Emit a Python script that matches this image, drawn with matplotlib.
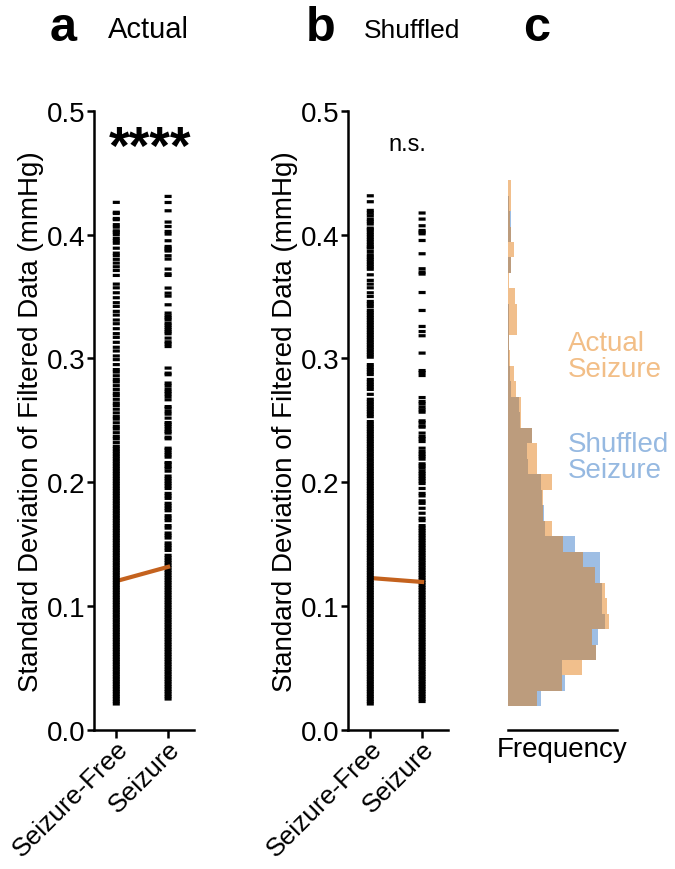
import numpy as np
import matplotlib.pyplot as plt
import matplotlib.transforms as mtransforms

plt.rcParams['font.family'] = ['Liberation Sans', 'DejaVu Sans']

groups = ['Seizure-Free', 'Seizure']

# SD of filtered data per epoch (mmHg)
actual_free = [
    0.021, 0.023, 0.025, 0.027, 0.029, 0.031, 0.033, 0.035, 0.037, 0.039,
    0.041, 0.043, 0.045, 0.047, 0.049, 0.051, 0.053, 0.055, 0.057, 0.059,
    0.061, 0.063, 0.065, 0.067, 0.069, 0.071, 0.073, 0.075, 0.077, 0.079,
    0.081, 0.083, 0.085, 0.087, 0.089, 0.091, 0.093, 0.095, 0.097, 0.099,
    0.101, 0.103, 0.105, 0.107, 0.109, 0.111, 0.113, 0.115, 0.117, 0.119,
    0.121, 0.123, 0.125, 0.127, 0.129, 0.131, 0.133, 0.135, 0.137, 0.139,
    0.141, 0.143, 0.145, 0.147, 0.149, 0.151, 0.153, 0.155, 0.157, 0.159,
    0.161, 0.163, 0.165, 0.167, 0.169, 0.171, 0.173, 0.175, 0.177, 0.179,
    0.181, 0.183, 0.185, 0.187, 0.189, 0.191, 0.193, 0.195, 0.197, 0.199,
    0.201, 0.203, 0.205, 0.207, 0.209, 0.211, 0.213, 0.215, 0.217, 0.219,
    0.221, 0.223, 0.225, 0.227, 0.229,
    0.232, 0.235, 0.237, 0.240, 0.243, 0.245, 0.248, 0.251, 0.253, 0.256,
    0.259, 0.262, 0.264, 0.267, 0.270, 0.272, 0.275, 0.278, 0.281, 0.283,
    0.286, 0.289, 0.291, 0.295, 0.299, 0.302, 0.306, 0.309, 0.313, 0.317,
    0.320, 0.324, 0.328, 0.331, 0.335, 0.338, 0.342, 0.345, 0.349, 0.353,
    0.357, 0.360, 0.367, 0.371, 0.374, 0.377, 0.380, 0.383, 0.385, 0.389,
    0.393, 0.395, 0.397, 0.400, 0.402, 0.403, 0.406, 0.408, 0.412, 0.413,
    0.417, 0.418, 0.426,
]
actual_seizure = [
    0.025, 0.027, 0.029, 0.031, 0.033, 0.035, 0.037, 0.039,
    0.041, 0.043, 0.045, 0.047, 0.049, 0.051, 0.053, 0.055, 0.057, 0.059,
    0.061, 0.063, 0.065, 0.067, 0.069, 0.071, 0.073, 0.075, 0.077, 0.079,
    0.081, 0.083, 0.085, 0.087, 0.089, 0.091, 0.093, 0.095, 0.097, 0.099,
    0.101, 0.103, 0.105, 0.107, 0.109, 0.111, 0.113, 0.115, 0.117, 0.119,
    0.121, 0.123, 0.125, 0.127, 0.129, 0.131, 0.133, 0.135, 0.137, 0.139,
    0.141, 0.145, 0.147, 0.149, 0.151, 0.155, 0.157, 0.159, 0.163, 0.165,
    0.169, 0.171, 0.173, 0.177, 0.179, 0.181, 0.183, 0.187, 0.189, 0.191,
    0.195, 0.197, 0.199, 0.201, 0.203, 0.205, 0.209,
    0.2114, 0.2127, 0.2149, 0.2159, 0.2203, 0.2221, 0.2240, 0.2262, 0.2275,
    0.2351, 0.2364, 0.2397, 0.2410, 0.2429, 0.2450, 0.2469, 0.2482, 0.2518,
    0.2550, 0.2571, 0.2598, 0.2611, 0.2666, 0.2692, 0.2714, 0.2733, 0.2754,
    0.2781, 0.2801, 0.2868, 0.2881, 0.2922, 0.3096, 0.3118, 0.3134, 0.3164,
    0.3199, 0.3215, 0.3231, 0.3250, 0.3269, 0.3285, 0.3312, 0.3328, 0.3344,
    0.3366, 0.3433, 0.3503, 0.3527, 0.3568, 0.3670, 0.3683, 0.3721, 0.3802,
    0.3829, 0.3867, 0.3877, 0.3891, 0.3904, 0.3950, 0.4004, 0.4025, 0.4065,
    0.4101, 0.4192, 0.4259, 0.4308,
]
shuffled_free = [
    0.021, 0.023, 0.025, 0.027, 0.029, 0.031, 0.033, 0.035, 0.037, 0.039,
    0.041, 0.043, 0.045, 0.047, 0.049, 0.051, 0.053, 0.055, 0.057, 0.059,
    0.061, 0.063, 0.065, 0.067, 0.069, 0.071, 0.073, 0.075, 0.077, 0.079,
    0.081, 0.083, 0.085, 0.087, 0.089, 0.091, 0.093, 0.095, 0.097, 0.099,
    0.101, 0.103, 0.105, 0.107, 0.109, 0.111, 0.113, 0.115, 0.117, 0.119,
    0.121, 0.123, 0.125, 0.127, 0.129, 0.131, 0.133, 0.135, 0.137, 0.139,
    0.141, 0.143, 0.145, 0.147, 0.149, 0.151, 0.153, 0.155, 0.157, 0.159,
    0.161, 0.163, 0.165, 0.167, 0.169, 0.171, 0.173, 0.175, 0.177, 0.179,
    0.181, 0.183, 0.185, 0.187, 0.189, 0.191, 0.193, 0.195, 0.197, 0.199,
    0.201, 0.203, 0.205, 0.207, 0.209, 0.211, 0.213, 0.215, 0.217, 0.219,
    0.221, 0.223, 0.225, 0.227, 0.229, 0.231, 0.233, 0.235, 0.237, 0.239,
    0.241, 0.243, 0.245, 0.247, 0.249, 0.253, 0.255, 0.257, 0.259,
    0.261, 0.263, 0.265, 0.267, 0.271, 0.275, 0.277, 0.279,
    0.281, 0.283, 0.287, 0.289, 0.291, 0.293, 0.295,
    0.301, 0.303, 0.305, 0.307, 0.309, 0.311, 0.313, 0.315, 0.317, 0.319,
    0.321, 0.323, 0.325, 0.327, 0.329, 0.331,
    0.333, 0.335, 0.337, 0.339, 0.342, 0.344, 0.346, 0.350, 0.353, 0.357,
    0.360, 0.363, 0.3675, 0.372, 0.374, 0.376, 0.378, 0.380, 0.3818, 0.3837,
    0.3864, 0.3891, 0.390, 0.392, 0.394, 0.396, 0.398, 0.400, 0.402, 0.4039,
    0.4052, 0.4085, 0.4106, 0.4125, 0.4152, 0.4174, 0.4195, 0.4265, 0.4313,
]
shuffled_seizure = [
    0.023, 0.025, 0.027, 0.029, 0.031, 0.033, 0.035, 0.037, 0.039,
    0.041, 0.043, 0.045, 0.047, 0.049, 0.051, 0.053, 0.055, 0.057, 0.059,
    0.061, 0.063, 0.065, 0.067, 0.069, 0.071, 0.073, 0.075, 0.077, 0.079,
    0.081, 0.083, 0.085, 0.087, 0.089, 0.091, 0.093, 0.095, 0.097, 0.099,
    0.101, 0.103, 0.105, 0.107, 0.109, 0.111, 0.113, 0.115, 0.117, 0.119,
    0.121, 0.123, 0.125, 0.127, 0.129, 0.131, 0.133, 0.135, 0.137, 0.139,
    0.141, 0.143, 0.145, 0.147, 0.149, 0.151, 0.153, 0.155, 0.157, 0.159,
    0.161, 0.163, 0.165, 0.169, 0.171, 0.175, 0.179, 0.183, 0.185, 0.189,
    0.191, 0.195, 0.199, 0.201, 0.203, 0.205, 0.207, 0.209,
    0.2114, 0.2132, 0.2149, 0.2187, 0.2208, 0.2227, 0.2248, 0.2275, 0.2329,
    0.2351, 0.2369, 0.2397, 0.2445, 0.2456, 0.2482, 0.2496, 0.2566, 0.2585,
    0.2607, 0.2633, 0.2652, 0.2684, 0.2862, 0.2886, 0.2902, 0.3043, 0.3183,
    0.3217, 0.3258, 0.3387, 0.3532, 0.3681, 0.3697, 0.3724, 0.3845, 0.3952,
    0.4006, 0.4020, 0.4033, 0.4071, 0.4125, 0.4174,
]

# medians joined by the orange line
actual_medians = [0.1202, 0.1317]
shuffled_medians = [0.1227, 0.1195]

# panel c: seizure epochs, % per bin
hist_edges = [0.019, 0.0315, 0.044, 0.0565, 0.069, 0.0815, 0.094, 0.1065,
              0.119, 0.1315, 0.144, 0.1565, 0.169, 0.1815, 0.194, 0.2065,
              0.219, 0.2315, 0.244, 0.2565, 0.269, 0.2815, 0.294, 0.3065,
              0.319, 0.3315, 0.344, 0.3565, 0.369, 0.3815, 0.394, 0.4065,
              0.419, 0.4315, 0.444]
hist_actual = [1.83, 3.47, 4.73, 5.67, 5.42, 6.49, 6.36, 6.24, 5.61, 4.79,
               3.53, 2.84, 2.27, 2.27, 2.84, 1.89, 1.89, 1.51, 0.82, 0.82,
               0.50, 0.38, 0.13, 0.06, 0.57, 0.57, 0.44, 0.06, 0.21, 0.40,
               0.21, 0.13, 0.17, 0.17]
hist_shuffled = [2.14, 3.65, 3.47, 5.67, 5.80, 6.24, 6.05, 6.05, 5.92, 5.92,
                 4.28, 2.39, 2.33, 2.21, 2.14, 1.26, 1.20, 1.51, 0.76, 0.69,
                 0.19, 0.13, 0.06, 0.06, 0.06, 0.06, 0.0, 0.0, 0.21, 0.0,
                 0.21, 0.21, 0.06, 0.0]

yticks = [0.0, 0.1, 0.2, 0.3, 0.4, 0.5]
ylab = 'Standard Deviation of Filtered Data (mmHg)'

fig = plt.figure(figsize=(6.75, 8.7), dpi=100)
ax_a = fig.add_axes([0.1393, 0.1598, 0.1481, 0.7118])
ax_b = fig.add_axes([0.5156, 0.1598, 0.1481, 0.7118])
ax_c = fig.add_axes([0.7526, 0.1598, 0.1615, 0.7118])

half = 0.068  # half length of each dash, in category units


def strip_panel(ax, free, seizure, medians):
    ax.hlines(free, -half, half, colors='black', lw=2.3, zorder=3, snap=False)
    ax.hlines(seizure, 1 - half, 1 + half, colors='black', lw=2.3, zorder=2,
              snap=False)
    ax.plot([0, 1], medians, color='#C4621E', lw=3, zorder=2.5,
            solid_capstyle='projecting')
    ax.set_xlim(-0.43, 1.5)
    ax.set_ylim(0, 0.5)
    ax.set_xticks([0, 1])
    ax.set_xticklabels([])
    # slanted category labels, placed by hand so they can sit a bit right
    off = mtransforms.ScaledTranslation(8 / 100, -15 / 100, fig.dpi_scale_trans)
    for i, g in enumerate(groups):
        ax.text(i, 0, g, transform=ax.get_xaxis_transform() + off,
                rotation=45, ha='right', va='center', rotation_mode='anchor',
                fontsize=19)
    ax.set_yticks(yticks)
    ax.set_yticklabels(['%.1f' % t for t in yticks])
    for s in ['top', 'right']:
        ax.spines[s].set_visible(False)
    for s in ['left', 'bottom']:
        ax.spines[s].set_linewidth(1.8)
    ax.tick_params(width=1.8, labelsize=20)
    ax.tick_params(axis='y', length=5, pad=1)
    ax.tick_params(axis='x', length=6)
    ax.set_ylabel(ylab, fontsize=20)
    ax.yaxis.set_label_coords(-0.5, 0.5)


strip_panel(ax_a, actual_free, actual_seizure, actual_medians)
strip_panel(ax_b, shuffled_free, shuffled_seizure, shuffled_medians)

ax_a.text(0.65, 0.458, '****', ha='center', va='baseline', fontsize=38,
          fontweight='bold')
ax_b.text(0.71, 0.468, 'n.s.', ha='center', va='baseline', fontsize=17)

# histograms
ax_c.stairs(hist_shuffled, hist_edges, orientation='horizontal', fill=True,
            color='#8DB3E0', alpha=0.85, lw=0)
ax_c.stairs(hist_actual, hist_edges, orientation='horizontal', fill=True,
            color='#E27300', alpha=0.45, lw=0)
ax_c.set_xlim(0, 7)
ax_c.set_ylim(0, 0.5)
ax_c.set_xticks([])
ax_c.set_yticks([])
for s in ['top', 'right', 'left']:
    ax_c.spines[s].set_visible(False)
ax_c.spines['bottom'].set_linewidth(1.8)
ax_c.set_xlabel('Frequency', fontsize=20, labelpad=4)
ax_c.text(0.55, 0.302, 'Actual\nSeizure', transform=ax_c.get_yaxis_transform(),
          color='#F2BE87', fontsize=20, va='center', linespacing=1.0)
ax_c.text(0.55, 0.220, 'Shuffled\nSeizure', transform=ax_c.get_yaxis_transform(),
          color='#96B9E1', fontsize=20, va='center', linespacing=1.0)

# panel letters and titles
fig.text(50 / 675, 1 - 41 / 870, 'a', fontsize=35, fontweight='bold', va='baseline')
fig.text(108 / 675, 1 - 38 / 870, 'Actual', fontsize=21, va='baseline')
fig.text(306 / 675, 1 - 41 / 870, 'b', fontsize=35, fontweight='bold', va='baseline')
fig.text(364 / 675, 1 - 38 / 870, 'Shuffled', fontsize=19, va='baseline')
fig.text(523 / 675, 1 - 41 / 870, 'c', fontsize=35, fontweight='bold', va='baseline')

fig.savefig('out.png', dpi=100)
